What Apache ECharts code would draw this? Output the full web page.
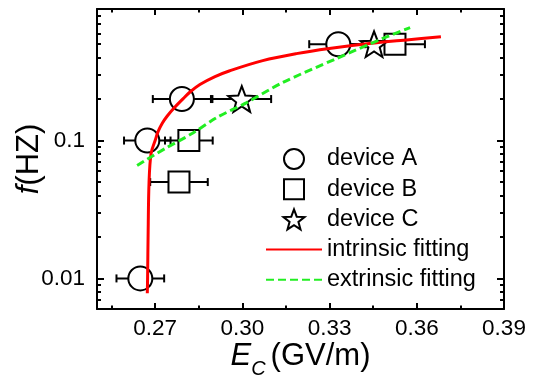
<!DOCTYPE html>
<html>
<head>
<meta charset="utf-8">
<script src="https://cdn.jsdelivr.net/npm/echarts@6/dist/echarts.min.js"></script>
<style>html,body{margin:0;padding:0;background:#fff;}#c{width:536px;height:383px;}</style>
</head>
<body>
<div id="c"></div>
<script>
// ---- data ----
const devA_x = [0.333, 0.2792, 0.2673, 0.2649];
const devA_y = [0.5, 0.2, 0.1, 0.01];
const devA_err = [0.0100, 0.0100, 0.0080, 0.0082];

const devB_x = [0.3525, 0.2816, 0.2782];
const devB_y = [0.5, 0.1, 0.05];
const devB_err = [0.0103, 0.0082, 0.0099];

const devC_x = [0.3453, 0.2998];
const devC_y = [0.5, 0.2];
const devC_err = [0.0096, 0.0101];

const intr_x = [0.2673, 0.2674, 0.2676, 0.2679, 0.2686, 0.2700, 0.2710, 0.2724, 0.2741, 0.2765, 0.2793, 0.2820, 0.2854, 0.2906, 0.2957, 0.3070, 0.3186, 0.3299, 0.3436, 0.3573, 0.3683];
const intr_y = [0.0078, 0.0100, 0.0223, 0.0496, 0.0805, 0.100, 0.116, 0.133, 0.150, 0.172, 0.198, 0.225, 0.255, 0.291, 0.321, 0.380, 0.427, 0.465, 0.505, 0.539, 0.567];

const extr_x = [0.2638, 0.2734, 0.2827, 0.2912, 0.3015, 0.3138, 0.3323, 0.3481, 0.3577];
const extr_y = [0.0659, 0.0875, 0.1124, 0.1468, 0.1886, 0.2632, 0.3927, 0.548, 0.659];

const seriesNames = ['device A', 'device B', 'device C', 'intrinsic fitting', 'extrinsic fitting'];

const xTickValues = [0.27, 0.30, 0.33, 0.36, 0.39];
const xTickLabels = ['0.27', '0.30', '0.33', '0.36', '0.39'];
const xMinorTicks = [0.255, 0.285, 0.315, 0.345, 0.375];
const yTickValues = [0.01, 0.1];
const yTickLabels = ['0.01', '0.1'];
const yMinorTicks = [0.006, 0.007, 0.008, 0.009, 0.02, 0.03, 0.04, 0.05, 0.06, 0.07, 0.08, 0.09, 0.2, 0.3, 0.4, 0.5, 0.6, 0.7, 0.8, 0.9];

// ---- helpers ----
const zip2 = (a, b) => a.map((v, i) => [v, b[i]]);
const zip3 = (a, b, c) => a.map((v, i) => [v, b[i], c[i]]);
const FONT = 'Liberation Sans, Arial, Helvetica, sans-serif';
const SQUARE = 'path://M0,0L100,0L100,100L0,100Z';
const STAR = 'path://M100,0L124.7,66L195.1,69.1L139.9,113L158.8,180.9L100,142L41.2,180.9L60.1,113L4.9,69.1L75.3,66Z';

function nearestLabel(v, vals, labels) {
  let best = 0, bd = Infinity;
  vals.forEach((t, i) => { const d = Math.abs(Math.log(t) - Math.log(v)); if (d < bd) { bd = d; best = i; } });
  return labels[best];
}

function errRender(params, api) {
  const x = api.value(0), y = api.value(1), e = api.value(2);
  const p0 = api.coord([x - e, y]);
  const p1 = api.coord([x + e, y]);
  const cap = 4;
  const st = { stroke: '#000', lineWidth: 2 };
  return {
    type: 'group',
    children: [
      { type: 'line', shape: { x1: p0[0], y1: p0[1], x2: p1[0], y2: p1[1] }, style: st },
      { type: 'line', shape: { x1: p0[0], y1: p0[1] - cap, x2: p0[0], y2: p0[1] + cap }, style: st },
      { type: 'line', shape: { x1: p1[0], y1: p1[1] - cap, x2: p1[0], y2: p1[1] + cap }, style: st }
    ]
  };
}

const axisLine = { show: true, lineStyle: { color: '#000', width: 2 } };
const xMin = 0.25, xMax = 0.39, yMin = 0.006, yMax = 0.9;

function xAxisDef(position, major, showLine, showLabel, extra) {
  return Object.assign({
    type: 'value', position: position, min: xMin, max: xMax,
    axisLine: showLine ? axisLine : { show: false },
    splitLine: { show: false },
    axisTick: { show: true, inside: true, length: major ? 6 : 3.5, lineStyle: { color: '#000', width: 2 },
                customValues: major ? xTickValues : xMinorTicks },
    axisLabel: showLabel ? {
      show: true, customValues: xTickValues, margin: 8, color: '#000', fontSize: 22.5, fontFamily: FONT,
      formatter: v => nearestLabel(v, xTickValues, xTickLabels)
    } : { show: false }
  }, extra || {});
}
function yAxisDef(position, major, showLine, showLabel, extra) {
  return Object.assign({
    type: 'log', logBase: 10, position: position, min: yMin, max: yMax,
    axisLine: showLine ? axisLine : { show: false },
    splitLine: { show: false }, minorSplitLine: { show: false },
    axisTick: { show: true, inside: true, length: major ? 7 : 4, lineStyle: { color: '#000', width: 2 },
                customValues: major ? yTickValues : yMinorTicks },
    axisLabel: showLabel ? {
      show: true, customValues: yTickValues, margin: 12, color: '#000', fontSize: 22.5, fontFamily: FONT,
      formatter: v => nearestLabel(v, yTickValues, yTickLabels)
    } : { show: false }
  }, extra || {});
}

const scatterStyle = { color: '#fff', borderColor: '#000', borderWidth: 2, opacity: 1 };

const chart = echarts.init(document.getElementById('c'), null, { renderer: 'canvas' });
chart.setOption({
  animation: false,
  backgroundColor: '#fff',
  grid: { left: 97, right: 32, top: 9, bottom: 74, containLabel: false, outerBoundsMode: 'none' },
  xAxis: [
    xAxisDef('bottom', true, true, true, {
      name: '{i|E}{s|C}{t|(GV/m)}', nameLocation: 'middle', nameGap: 34.5, nameMoveOverlap: false,
      nameTextStyle: {
        color: '#000', fontFamily: FONT, fontSize: 31,
        rich: {
          i: { fontStyle: 'italic', fontSize: 31, fontFamily: FONT, color: '#000', lineHeight: 32, padding: [0, 0, 6, 0] },
          s: { fontStyle: 'italic', fontSize: 20, fontFamily: FONT, color: '#000', lineHeight: 20, padding: [20, 5, 0, 0] },
          t: { fontSize: 31, fontFamily: FONT, color: '#000', lineHeight: 32, padding: [0, 0, 6, 0] }
        },
        verticalAlign: 'top'
      }
    }),
    xAxisDef('bottom', false, false, false),
    xAxisDef('top', true, true, false),
    xAxisDef('top', false, false, false)
  ],
  yAxis: [
    yAxisDef('left', true, true, true, {
      name: '{i|f}(HZ)', nameLocation: 'middle', nameGap: 52, nameRotate: 90, nameMoveOverlap: false,
      nameTextStyle: {
        color: '#000', fontFamily: FONT, fontSize: 31,
        rich: { i: { fontStyle: 'italic', fontSize: 31, fontFamily: FONT, color: '#000' } }
      }
    }),
    yAxisDef('left', false, false, false),
    yAxisDef('right', true, true, false),
    yAxisDef('right', false, false, false)
  ],
  legend: {
    data: [
      { name: seriesNames[0] },
      { name: seriesNames[1] },
      { name: seriesNames[2] },
      { name: seriesNames[3], itemStyle: { opacity: 0 } },
      { name: seriesNames[4], itemStyle: { opacity: 0 } }
    ],
    orient: 'vertical',
    left: 265, top: 147,
    padding: 0,
    itemWidth: 56, itemHeight: 20, itemGap: 6.2,
    symbolKeepAspect: true,
    selectedMode: false,
    textStyle: { color: '#000', fontSize: 23.5, fontFamily: FONT }
  },
  series: [
    { type: 'custom', name: 'errA', renderItem: errRender, data: zip3(devA_x, devA_y, devA_err), encode: { x: 0, y: 1 }, z: 1, silent: true },
    { type: 'custom', name: 'errB', renderItem: errRender, data: zip3(devB_x, devB_y, devB_err), encode: { x: 0, y: 1 }, z: 1, silent: true },
    { type: 'custom', name: 'errC', renderItem: errRender, data: zip3(devC_x, devC_y, devC_err), encode: { x: 0, y: 1 }, z: 1, silent: true },
    { type: 'scatter', name: seriesNames[0], symbol: 'circle', symbolSize: 24, itemStyle: scatterStyle, data: zip2(devA_x, devA_y), z: 2 },
    { type: 'scatter', name: seriesNames[1], symbol: SQUARE, symbolSize: 21, symbolKeepAspect: true, itemStyle: scatterStyle, data: zip2(devB_x, devB_y), z: 2 },
    { type: 'scatter', name: seriesNames[2], symbol: STAR, symbolSize: 27, symbolKeepAspect: true, itemStyle: scatterStyle, data: zip2(devC_x, devC_y), z: 2 },
    { type: 'line', name: seriesNames[3], data: zip2(intr_x, intr_y), symbol: 'none', showSymbol: false, smooth: 0.35,
      lineStyle: { color: '#ff0000', width: 3 }, itemStyle: { color: '#ff0000' }, z: 3 },
    { type: 'line', name: seriesNames[4], data: zip2(extr_x, extr_y), symbol: 'none', showSymbol: false, smooth: 0.3,
      lineStyle: { color: '#22ee22', width: 3, type: [8, 4] }, itemStyle: { color: '#22ee22' }, z: 3 }
  ]
});
</script>
</body>
</html>
